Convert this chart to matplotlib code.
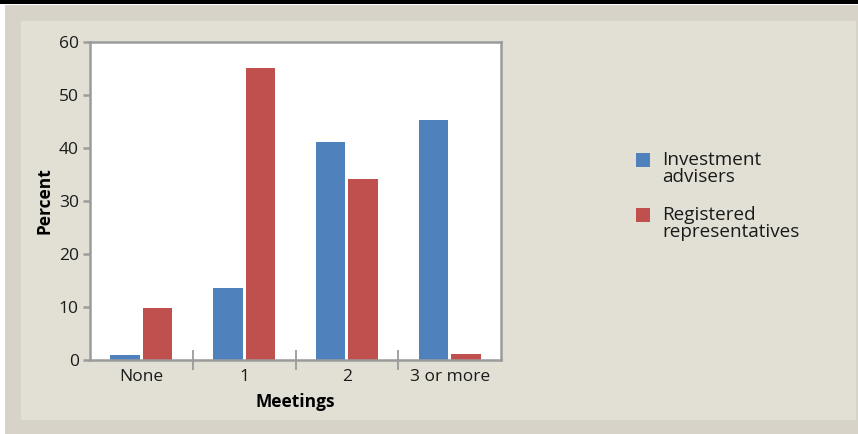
import numpy as np
import matplotlib.pyplot as plt
from matplotlib.patches import Rectangle

# values
categories = ['None', '1', '2', '3 or more']
advisers = [0.9, 13.6, 41.1, 45.3]
representatives = [9.7, 55.1, 34.1, 1.0]
series_names = ['Investment\nadvisers', 'Registered\nrepresentatives']
yticks = [0, 10, 20, 30, 40, 50, 60]

blue = '#4f81bd'
red = '#c0504d'
grey = '#9b9b9b'
txt = '#1a1a1a'

plt.rcParams['font.family'] = ['Open Sans', 'DejaVu Sans']

W, H = 858, 434
fig = plt.figure(figsize=(W / 100, H / 100), dpi=100, facecolor='white')


def px_rect(x0, y0, x1, y1, color):
    # rectangle in pixel coords measured from the top-left corner
    fig.patches.append(Rectangle((x0 / W, 1 - y1 / H), (x1 - x0) / W, (y1 - y0) / H,
                                 transform=fig.transFigure, color=color, lw=0, zorder=0))


# frame: black band on top, darker outer border, lighter panel
px_rect(0, 0, W, 3.5, 'black')
px_rect(5, 5, W, H, '#d7d3c8')
px_rect(21, 21, 856, 420, '#e2e0d5')

ax = fig.add_axes([90 / W, 1 - 359.5 / H, 411 / W, 317.5 / H])
ax.set_zorder(5)
ax.set_facecolor('white')

x = np.arange(len(categories))
bw = 0.287
off = 0.157
ax.bar(x - off, advisers, bw, color=blue, zorder=2)
ax.bar(x + off, representatives, bw, color=red, zorder=2)

ax.set_xlim(-0.5, len(categories) - 0.5)
ax.set_ylim(0, 60)
ax.set_yticks(yticks)
ax.set_xticks(x)
ax.set_xticklabels(categories)
ax.set_xticks(x[:-1] + 0.5, minor=True)

for s in ax.spines.values():
    s.set_color(grey)
    s.set_linewidth(1.8)

ax.tick_params(axis='y', length=5, width=1.8, color=grey, pad=3, labelsize=12.5, labelcolor=txt)
ax.tick_params(axis='x', which='major', length=0, pad=7, labelsize=12.5, labelcolor=txt)
ax.tick_params(axis='x', which='minor', direction='inout', length=14, width=1.3, color=grey)

ax.set_ylabel('Percent', fontsize=12.5, fontweight='bold', color='black')
ax.yaxis.set_label_coords(-0.09, 0.5)
ax.set_xlabel('Meetings', fontsize=12.5, fontweight='bold', color='black')
ax.xaxis.set_label_coords(0.5, -0.104)

# legend, drawn at the right of the panel
for i, (name, col) in enumerate(zip(series_names, [blue, red])):
    top = 153 + i * 55
    fig.patches.append(Rectangle((636 / W, 1 - (top + 14) / H), 14 / W, 14 / H,
                                 transform=fig.transFigure, color=col, lw=0))
    fig.text(662 / W, 1 - (top - 2) / H, name, ha='left', va='top', fontsize=13.6,
             color=txt, linespacing=0.92)

fig.savefig('out.png', dpi=100, facecolor=fig.get_facecolor())
